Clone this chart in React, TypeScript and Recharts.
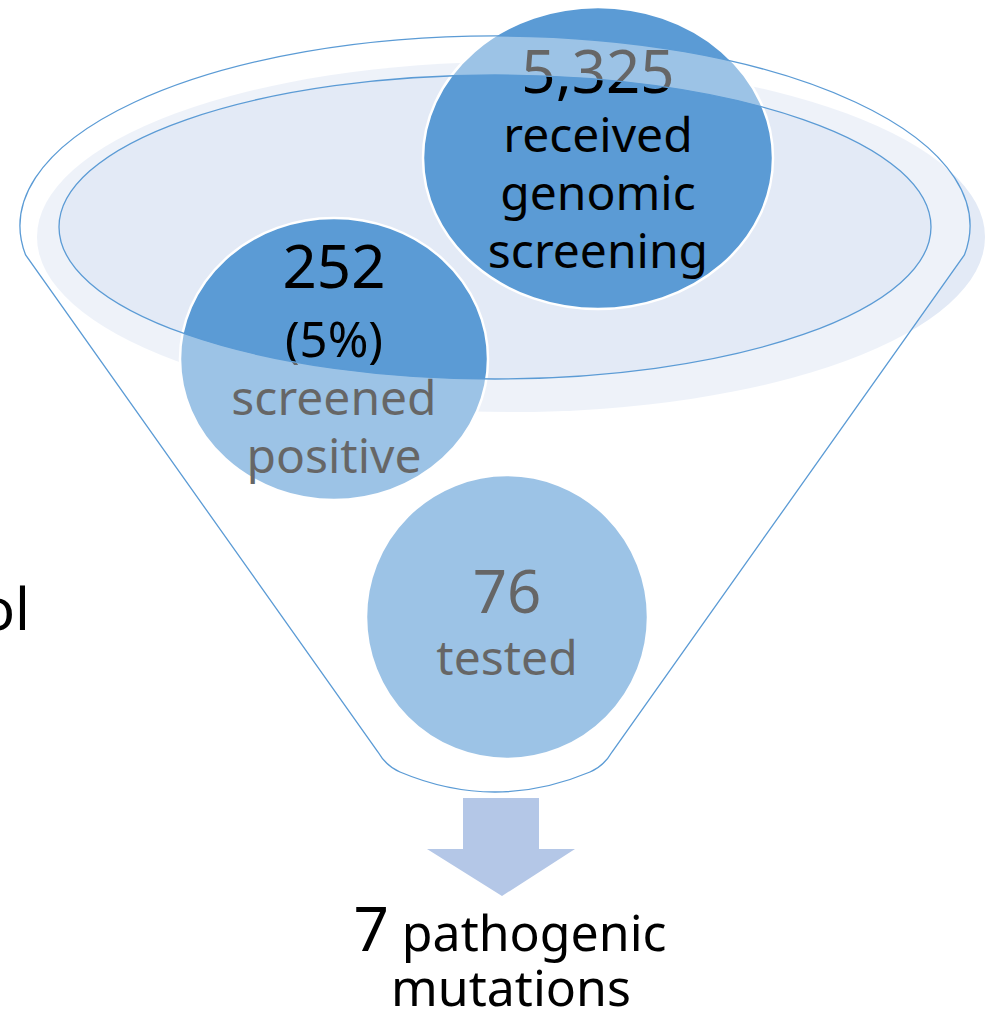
import React from 'react';
import { ScatterChart, Scatter, XAxis, YAxis, Customized } from 'recharts';

// funnel stages, top to bottom
const stageCounts = [5325, 252, 76, 7];
const stageShares = ['', '(5%)', '', ''];
const stageLabels = [
  ['received', 'genomic', 'screening'],
  ['screened', 'positive'],
  ['tested'],
  ['pathogenic', 'mutations']
];

// where the stages sit in the diagram (diagram units, 992 x 1012)
const bubbleX = [598, 334, 507];
const bubbleY = [158, 359, 617];
const bubbleRx = [175, 154, 141];
const bubbleRy = [151, 141, 142];
const countDy = [-65, -71, -4];
const firstGap = [59, 69, 62];
const outcomeX = 510;
const outcomeY = 951;

const W = 992;
const H = 1012;
const FONT = "'Noto Sans', 'Open Sans', sans-serif";
const BLUE = '#5b9bd5';

const bubbles = bubbleX.map((x, i) => ({
  x,
  y: bubbleY[i],
  rx: bubbleRx[i],
  ry: bubbleRy[i],
  count: stageCounts[i].toLocaleString('en-US'),
  share: stageShares[i],
  labels: stageLabels[i],
  countDy: countDy[i],
  gap: firstGap[i]
}));

const outcome = [{ x: outcomeX, y: outcomeY, count: stageCounts[3], labels: stageLabels[3] }];

const Bubble = (props: any) => {
  const { cx, cy, payload } = props;
  const lines: { text: string; size: number }[] = [{ text: payload.count, size: 60 }];
  if (payload.share) lines.push({ text: payload.share, size: 49 });
  payload.labels.forEach((t: string) => lines.push({ text: t, size: 48 }));
  let base = cy + payload.countDy;
  return (
    <g>
      <ellipse cx={cx} cy={cy} rx={payload.rx} ry={payload.ry} fill={BLUE} stroke="#fff" strokeWidth={2.5} />
      {lines.map((l, i) => {
        if (i === 1) base += payload.gap;
        else if (i > 1) base += 58;
        return (
          <text key={i} x={cx} y={base} textAnchor="middle" fontSize={l.size} fontFamily={FONT} fill="#000">
            {l.text}
          </text>
        );
      })}
    </g>
  );
};

// funnel outline: top arc of the rim, two sides, rounded spout
const orx = 475, ory = 190;
const icx = 495, icy = 227, irx = 436, iry = 152;
const funnelPath =
  `M 964.4 255 A ${orx} ${ory} 0 1 0 25.6 255 ` +
  `L 378 752 Q 386 766 400 772 Q 495 812 590 772 Q 604 766 612 752 L 964.4 255 Z`;
const innerPath =
  `M ${icx - irx} ${icy} A ${irx} ${iry} 0 1 0 ${icx + irx} ${icy} A ${irx} ${iry} 0 1 0 ${icx - irx} ${icy} Z`;

const FunnelBack = () => (
  <g>
    <ellipse cx={511} cy={237} rx={474} ry={175} fill="#e3eaf6" />
  </g>
);

// drawn after the bubbles: frosted funnel body, outlines, arrow and the outcome text
const Outcome = (props: any) => {
  const { cx, cy, payload } = props;
  return (
    <g>
      <path d={funnelPath + ' ' + innerPath} fill="#fff" fillOpacity={0.4} fillRule="evenodd" />
      <path d={funnelPath} fill="none" stroke={BLUE} strokeWidth={1.3} />
      <ellipse cx={icx} cy={icy} rx={irx} ry={iry} fill="none" stroke={BLUE} strokeWidth={1.3} />
      <polygon points="463,798 539,798 539,849 575,849 502,896 427,849 463,849" fill="#b4c7e7" />
      <text x={cx} y={cy} textAnchor="middle" fontFamily={FONT} fill="#000">
        <tspan fontSize={62}>{payload.count}</tspan>
        <tspan fontSize={50}> {payload.labels[0]}</tspan>
      </text>
      <text x={cx + 1} y={cy + 55} textAnchor="middle" fontFamily={FONT} fontSize={50} fill="#000">
        {payload.labels[1]}
      </text>
      <text x={30} y={630} textAnchor="end" fontFamily={FONT} fontSize={58} fill="#000">
        Protocol
      </text>
    </g>
  );
};

export default function App() {
  return (
    <div style={{ position: 'absolute', left: 0, top: 0, width: W, height: H, background: '#fff' }}>
      <ScatterChart width={W} height={H} margin={{ top: 0, right: 0, bottom: 0, left: 0 }}>
        <XAxis type="number" dataKey="x" domain={[0, W]} hide />
        <YAxis type="number" dataKey="y" domain={[0, H]} reversed hide />
        <Customized component={FunnelBack} />
        <Scatter data={bubbles} shape={Bubble} isAnimationActive={false} />
        <Scatter data={outcome} shape={Outcome} isAnimationActive={false} />
      </ScatterChart>
    </div>
  );
}
